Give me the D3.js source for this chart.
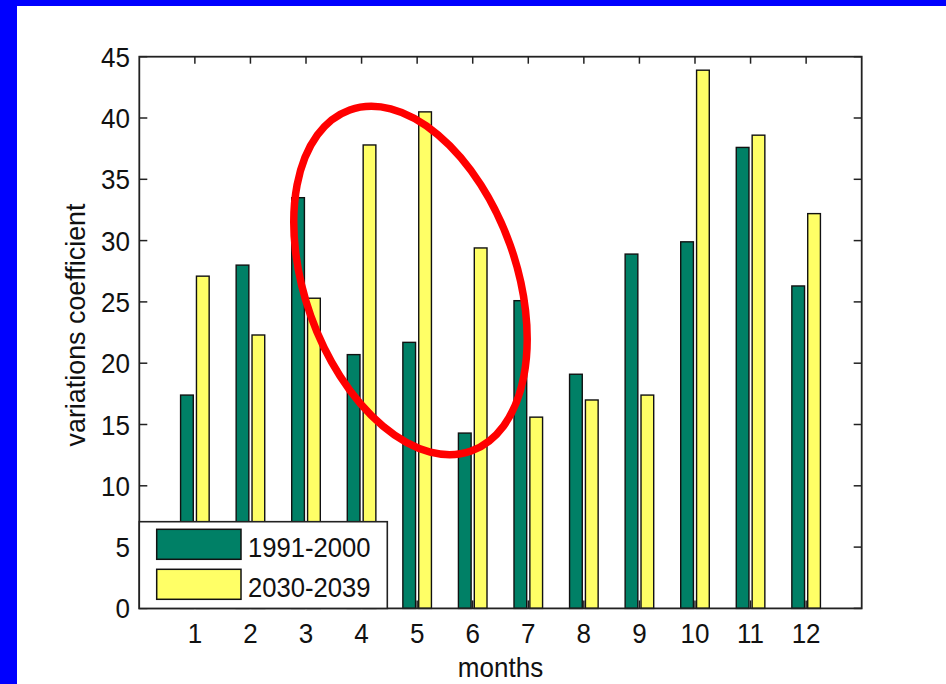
<!DOCTYPE html>
<html>
<head>
<meta charset="utf-8">
<script src="https://cdn.jsdelivr.net/npm/d3@7/dist/d3.min.js"></script>
<style>
  html, body { margin: 0; padding: 0; background: #fff; }
  svg { display: block; }
  text { font-family: "Liberation Sans", Arial, sans-serif; fill: #111; }
</style>
</head>
<body>
<svg id="chart" width="946" height="684"></svg>
<script>
// ---- data ----
const months = [1, 2, 3, 4, 5, 6, 7, 8, 9, 10, 11, 12];
const series1991 = [17.4, 28.0, 33.5, 20.7, 21.7, 14.3, 25.1, 19.1, 28.9, 29.9, 37.6, 26.3];
const series2030 = [27.1, 22.3, 25.3, 37.8, 40.5, 29.4, 15.6, 17.0, 17.4, 43.9, 38.6, 32.2];
const seriesNames = ["1991-2000", "2030-2039"];
const yTicks = [0, 5, 10, 15, 20, 25, 30, 35, 40, 45];
const xLabel = "months";
const yLabel = "variations coefficient";
// annotation ellipse center in data units
const ellipseCenter = { month: 4.88, value: 26.75 };

// ---- layout ----
const svg = d3.select("#chart");
const W = 946, H = 684;
const colors = ["rgb(0,128,102)", "rgb(255,255,102)"];
const L = 139.3, R = 861.7, T = 56.7, B = 608.4;
const x = d3.scaleLinear().domain([0, 13]).range([L, R]);
const y = d3.scaleLinear().domain([0, 45]).range([B, T]);
const groupW = 2 / 3.5;
const barW = groupW / 2 * 0.8;
const offsets = [-groupW / 4, groupW / 4];
const axisColor = "#222";
const fs = 28, sx = 0.93;

svg.append("rect").attr("width", W).attr("height", H).attr("fill", "#fff");
svg.append("rect").attr("x", 0).attr("y", 0).attr("width", W).attr("height", 6).attr("fill", "#0000ff");
svg.append("rect").attr("x", 0).attr("y", 0).attr("width", 17).attr("height", H).attr("fill", "#0000ff");

// bars
const allSeries = [series1991, series2030];
allSeries.forEach((vals, si) => {
  svg.append("g").selectAll("rect").data(months).join("rect")
    .attr("x", (m) => x(m + offsets[si] - barW / 2))
    .attr("width", x(barW) - x(0))
    .attr("y", (m, i) => y(vals[i]))
    .attr("height", (m, i) => y(0) - y(vals[i]))
    .attr("fill", colors[si])
    .attr("stroke", "#111")
    .attr("stroke-width", 1.4);
});

// ticks (inward, all four sides)
const tg = svg.append("g").attr("stroke", axisColor).attr("stroke-width", 1.5);
yTicks.forEach(v => {
  tg.append("line").attr("x1", L).attr("x2", L + 8).attr("y1", y(v)).attr("y2", y(v));
  tg.append("line").attr("x1", R).attr("x2", R - 8).attr("y1", y(v)).attr("y2", y(v));
});
months.forEach(m => {
  tg.append("line").attr("x1", x(m)).attr("x2", x(m)).attr("y1", B).attr("y2", B - 8);
  tg.append("line").attr("x1", x(m)).attr("x2", x(m)).attr("y1", T).attr("y2", T + 7);
});
// box
svg.append("rect").attr("x", L).attr("y", T).attr("width", R - L).attr("height", B - T)
  .attr("fill", "none").attr("stroke", axisColor).attr("stroke-width", 1.8);

// tick labels
function txt(str, tx, ty, anchor, extra) {
  return svg.append("text")
    .attr("transform", `translate(${tx},${ty})${extra || ""} scale(${sx},1)`)
    .attr("text-anchor", anchor)
    .attr("font-size", fs)
    .text(str);
}
yTicks.forEach(v => {
  txt(String(v), 130, y(v) + 10, "end");
});
months.forEach(m => {
  txt(String(m), x(m), 643, "middle");
});
txt(xLabel, x(6.5), 677, "middle");
svg.append("text")
  .attr("transform", `translate(85,325) rotate(-90) scale(0.96,1)`)
  .attr("text-anchor", "middle").attr("font-size", fs).text(yLabel);

// legend
const lg = svg.append("g");
lg.append("rect").attr("x", L).attr("y", 521.7).attr("width", 387.3 - L).attr("height", B - 521.7)
  .attr("fill", "#fff").attr("stroke", axisColor).attr("stroke-width", 1.6);
seriesNames.forEach((name, i) => {
  const top = 529.3 + i * 40;
  lg.append("rect").attr("x", 156.7).attr("y", top).attr("width", 84.3).attr("height", 30)
    .attr("fill", colors[i]).attr("stroke", "#111").attr("stroke-width", 1.5);
  lg.append("text")
    .attr("transform", `translate(248,${top + 27.5}) scale(0.915,1)`)
    .attr("font-size", fs).text(name);
});

// red annotation ellipse
const cx = x(ellipseCenter.month), cy = y(ellipseCenter.value);
svg.append("ellipse")
  .attr("cx", cx).attr("cy", cy).attr("rx", 181).attr("ry", 105.8)
  .attr("transform", `rotate(70.4,${cx},${cy})`)
  .attr("fill", "none").attr("stroke", "#ff0000").attr("stroke-width", 7.5);
</script>
</body>
</html>
